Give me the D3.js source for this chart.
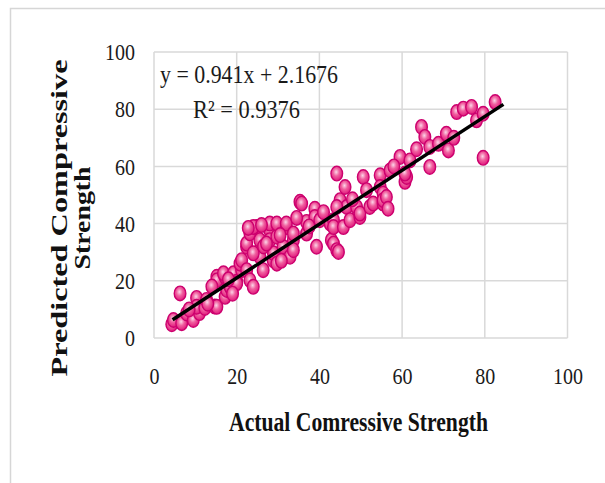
<!DOCTYPE html>
<html>
<head>
<meta charset="utf-8">
<script src="https://cdn.jsdelivr.net/npm/d3@7"></script>
<style>
  html, body { margin: 0; padding: 0; background: #fff; }
</style>
</head>
<body>
<svg id="chart" width="605" height="483"></svg>
<script>
// Actual vs predicted compressive strength
const actual = [
  4.3, 4.7, 6.3, 6.7, 7.9, 9.5, 10.3, 11, 10.3, 12.3, 12.7, 14.7, 15.2, 15.2, 15.2, 17.2, 17.2, 16.8, 17.6, 18.4,
  19.2, 20, 20, 21.2, 20.8, 21.2, 22.4, 22.4, 22.4, 23.2, 23.2, 24, 24.8, 24, 25.6, 25.6, 26.4, 28, 28.8, 24,
  25.6, 28.9, 28, 28, 29.7, 29.7, 29.7, 32, 32, 31.2, 32.9, 33.7, 33.7, 33.7, 35.3, 35.7, 36.9, 36.9, 38.9, 38.9,
  39.3, 40.1, 42.6, 42.9, 43.4, 43.4, 43.4, 44.2, 44.6, 44.2, 45, 45.8, 46.6, 47.4, 44.2, 46.2, 49, 49.8, 49.8, 50.6,
  51.4, 52.2, 53, 54.7, 54.7, 55.4, 55.4, 55.4, 56.2, 56.6, 57.1, 59.5, 60.7, 61.1, 61.9, 60.7, 64.7, 65.5, 66.7, 66.7,
  68.8, 70.7, 71.2, 73.2, 74.8, 76.8, 78, 79.6, 79.6, 82.5, 8.5, 13, 18, 19, 26.5, 30.5, 37.5, 41, 48, 58,
  22.8, 26, 27.2, 30.8, 34.5, 14, 63.5, 72.5
];
const predicted = [
  4.8, 6.3, 15.6, 5.2, 8.6, 6.3, 14, 8.7, 10.9, 10.5, 13.3, 11, 10.9, 21.4, 20.2, 21.4, 14.4, 22.6, 16.8, 17.9,
  22.6, 19.7, 19.1, 23.7, 26, 27.2, 31.9, 23.7, 33, 36.6, 20.2, 17.9, 38.8, 38.8, 30.7, 28.4, 23.7, 37.7, 27.2, 29.6,
  34.2, 29.6, 34.2, 40, 35.4, 40, 26, 38.8, 40, 31.9, 28.4, 34.2, 36.5, 30.7, 47.6, 47, 36.5, 40.6, 45.2, 42.3,
  31.9, 41.2, 40, 34.2, 41.2, 33, 38.8, 30.7, 30.1, 57.5, 48.2, 38.8, 45.8, 41.2, 45.8, 52.8, 45.8, 42.3, 43.5, 56.3,
  51.7, 45.8, 47, 56.9, 52.8, 50.5, 47, 48.2, 49.3, 45.2, 58.6, 63.3, 54.6, 56.3, 62.1, 57.5, 73.8, 70.3, 66.8, 59.8,
  67.9, 71.4, 65.6, 79, 80.2, 80.8, 76.1, 78.4, 63, 82.5, 10, 12, 20.5, 15.5, 32, 36, 39, 44, 48.5, 60,
  38.5, 39.5, 33, 27, 42, 18, 66, 70
];
const ticks = [0, 20, 40, 60, 80, 100];
const slope = 0.941, intercept = 2.1676;
const fitRange = [4.5, 84.5];

const svg = d3.select('#chart');

const x = d3.scaleLinear().domain([0, 100]).range([154, 567.5]);
const y = d3.scaleLinear().domain([0, 100]).range([338, 52]);

// Outer chart frame
svg.append('rect')
  .attr('x', 10.5).attr('y', 8.5)
  .attr('width', 700).attr('height', 600)
  .attr('fill', '#fff')
  .attr('stroke', '#d6d6d6')
  .attr('stroke-width', 1.5);

const defs = svg.append('defs');
const grad = defs.append('radialGradient')
  .attr('id', 'dot')
  .attr('cx', '45%').attr('cy', '40%').attr('r', '60%');
grad.append('stop').attr('offset', '0%').attr('stop-color', '#fcd6e8');
grad.append('stop').attr('offset', '45%').attr('stop-color', '#f0609f');
grad.append('stop').attr('offset', '100%').attr('stop-color', '#e0187c');

// Gridlines
const grid = svg.append('g').attr('class', 'grid');
grid.selectAll('.gx')
  .data(ticks)
  .enter()
  .append('line')
  .attr('x1', d => x(d)).attr('x2', d => x(d))
  .attr('y1', y(0)).attr('y2', y(100))
  .attr('stroke', '#d9d9d9')
  .attr('stroke-width', 1.5);
grid.selectAll('.gy')
  .data(ticks)
  .enter()
  .append('line')
  .attr('y1', d => y(d)).attr('y2', d => y(d))
  .attr('x1', x(0)).attr('x2', x(100))
  .attr('stroke', '#d9d9d9')
  .attr('stroke-width', 1.5);

// Axes (labels only)
const xAxis = svg.append('g')
  .attr('transform', `translate(0,${y(0)})`)
  .call(d3.axisBottom(x).tickValues(ticks).tickSize(0).tickPadding(29));
const yAxis = svg.append('g')
  .attr('transform', `translate(${x(0) - 19},0)`)
  .call(d3.axisLeft(y).tickValues(ticks).tickSize(0).tickPadding(0));

[xAxis, yAxis].forEach(ax => {
  ax.select('.domain').remove();
  ax.selectAll('text')
    .style('font-family', '"Liberation Serif", "Times New Roman", serif')
    .style('font-size', '24px')
    .attr('fill', '#1a1a1a')
    .attr('textLength', d => String(d).length * 10)
    .attr('lengthAdjust', 'spacingAndGlyphs');
});

// Points
const pts = actual.map((a, i) => ({ a, p: predicted[i] }));
svg.append('g')
  .selectAll('ellipse')
  .data(pts)
  .enter()
  .append('ellipse')
  .attr('cx', d => x(d.a))
  .attr('cy', d => y(d.p))
  .attr('rx', 5.8)
  .attr('ry', 7.3)
  .attr('fill', 'url(#dot)')
  .attr('stroke', '#cc006e')
  .attr('stroke-width', 1.4);

// Trendline
svg.append('line')
  .attr('x1', x(fitRange[0])).attr('y1', y(slope * fitRange[0] + intercept))
  .attr('x2', x(fitRange[1])).attr('y2', y(slope * fitRange[1] + intercept))
  .attr('stroke', '#000')
  .attr('stroke-width', 3.5);

// Equation
const serif = '"Liberation Serif", "Times New Roman", serif';
svg.append('text')
  .attr('x', 160).attr('y', 83)
  .style('font-family', serif).style('font-size', '25px')
  .attr('fill', '#1a1a1a')
  .attr('textLength', 178).attr('lengthAdjust', 'spacingAndGlyphs')
  .text('y = 0.941x + 2.1676');
svg.append('text')
  .attr('x', 193).attr('y', 118)
  .style('font-family', serif).style('font-size', '25px')
  .attr('fill', '#1a1a1a')
  .attr('textLength', 107).attr('lengthAdjust', 'spacingAndGlyphs')
  .text('R² = 0.9376');

// Axis titles
svg.append('text')
  .attr('x', 358.5).attr('y', 431)
  .attr('text-anchor', 'middle')
  .style('font-family', serif).style('font-size', '27px').style('font-weight', 'bold')
  .attr('fill', '#111')
  .attr('textLength', 259).attr('lengthAdjust', 'spacingAndGlyphs')
  .text('Actual Comressive Strength');

svg.append('text')
  .attr('transform', 'translate(67,218) rotate(-90)')
  .attr('text-anchor', 'middle')
  .style('font-family', serif).style('font-size', '24px').style('font-weight', 'bold')
  .attr('fill', '#111')
  .attr('textLength', 317).attr('lengthAdjust', 'spacingAndGlyphs')
  .text('Predicted Compressive');
svg.append('text')
  .attr('transform', 'translate(90,218) rotate(-90)')
  .attr('text-anchor', 'middle')
  .style('font-family', serif).style('font-size', '24px').style('font-weight', 'bold')
  .attr('fill', '#111')
  .attr('textLength', 103).attr('lengthAdjust', 'spacingAndGlyphs')
  .text('Strength');
</script>
</body>
</html>
